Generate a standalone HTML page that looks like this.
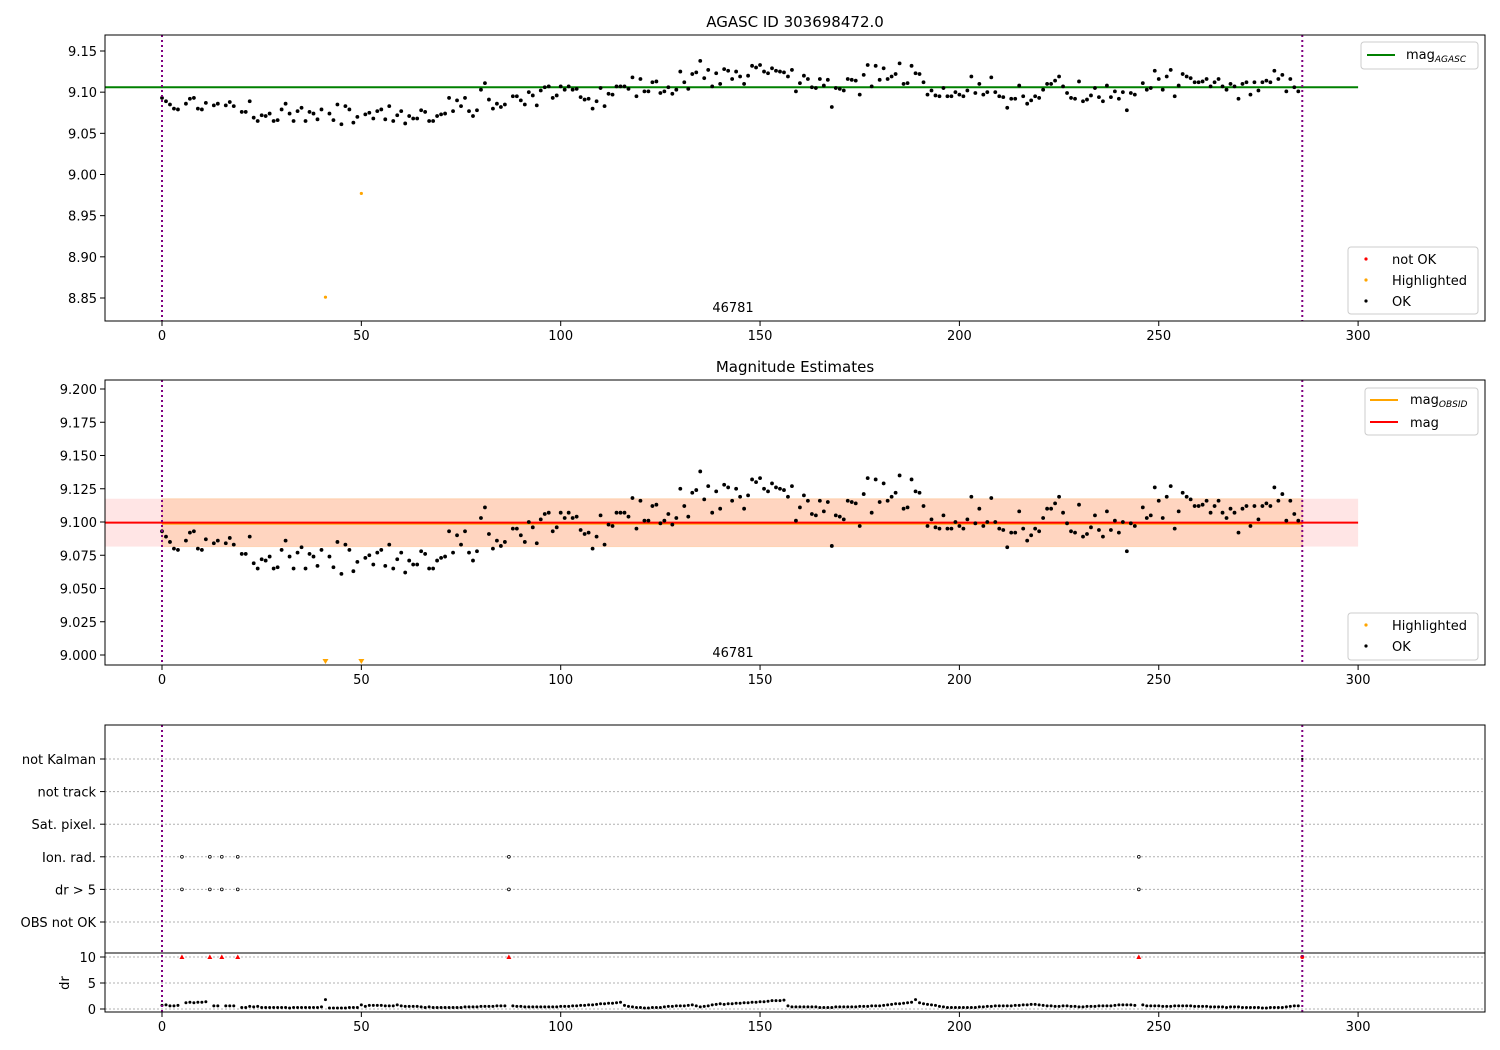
<!DOCTYPE html>
<html><head><meta charset="utf-8"><style>
body{margin:0;background:#fff}
svg{display:block;font-family:"DejaVu Sans","Liberation Sans",sans-serif}
</style></head><body>
<svg id="fig" width="1500" height="1050" viewBox="0 0 1500 1050" xmlns="http://www.w3.org/2000/svg">
<rect width="1500" height="1050" fill="#fff"/>
<text x="795" y="27" font-size="15" text-anchor="middle">AGASC ID 303698472.0</text>
<text x="795" y="372" font-size="15" text-anchor="middle">Magnitude Estimates</text>
<g id="top"></g>
<g id="mid"></g>
<g id="bot"></g>
</svg>
<script>
const mags = [9.093,9.089,9.085,9.080,9.079,null,9.086,9.092,9.093,9.080,
9.079,9.087,null,9.084,9.086,null,9.084,9.088,9.083,null,
9.076,9.076,9.089,9.069,9.065,9.072,9.071,9.074,9.065,9.066,
9.079,9.086,9.074,9.065,9.077,9.081,9.065,9.076,9.074,9.067,
9.079,8.851,9.074,9.066,9.085,9.061,9.083,9.079,9.063,9.070,
8.977,9.073,9.075,9.068,9.077,9.079,9.067,9.083,9.065,9.072,
9.077,9.062,9.071,9.068,9.068,9.078,9.076,9.065,9.065,9.071,
9.073,9.074,9.093,9.077,9.090,9.083,9.093,9.077,9.071,9.078,
9.103,9.111,9.091,9.080,9.086,9.082,9.085,null,9.095,9.095,
9.090,9.085,9.100,9.096,9.084,9.102,9.106,9.107,9.093,9.096,
9.107,9.103,9.107,9.103,9.104,9.094,9.091,9.092,9.080,9.089,
9.105,9.083,9.098,9.097,9.107,9.107,9.107,9.104,9.118,9.095,
9.116,9.101,9.101,9.112,9.113,9.099,9.101,9.106,9.098,9.103,
9.125,9.112,9.104,9.122,9.124,9.138,9.117,9.127,9.107,9.123,
9.110,9.128,9.126,9.116,9.125,9.119,9.110,9.120,9.132,9.130,
9.133,9.125,9.123,9.129,9.126,9.125,9.124,9.119,9.127,9.101,
9.111,9.120,9.116,9.106,9.105,9.116,9.108,9.115,9.082,9.105,
9.104,9.102,9.116,9.115,9.114,9.097,9.121,9.133,9.107,9.132,
9.115,9.129,9.116,9.119,9.122,9.135,9.110,9.111,9.132,9.123,
9.122,9.112,9.097,9.102,9.096,9.095,9.105,9.095,9.095,9.100,
9.097,9.095,9.102,9.119,9.099,9.110,9.097,9.100,9.118,9.100,
9.095,9.094,9.081,9.092,9.092,9.108,9.095,9.086,9.090,9.095,
9.093,9.103,9.110,9.110,9.114,9.119,9.107,9.099,9.093,9.092,
9.113,9.089,9.091,9.096,9.105,9.094,9.089,9.108,9.094,9.101,
9.092,9.100,9.078,9.099,9.097,null,9.111,9.103,9.105,9.126,
9.116,9.103,9.119,9.127,9.095,9.108,9.122,9.119,9.117,9.112,
9.112,9.113,9.116,9.107,9.112,9.116,9.107,9.103,9.110,9.107,
9.092,9.110,9.112,9.097,9.112,9.102,9.112,9.114,9.112,9.126,
9.116,9.121,9.101,9.116,9.106,9.101];
const drValues = [0.7,0.8,0.6,0.6,0.7,10,1.2,1.3,1.2,1.3,
1.3,1.4,10,0.6,0.6,10,0.6,0.6,0.6,10,
0.3,0.3,0.5,0.4,0.5,0.3,0.3,0.3,0.3,0.3,
0.3,0.3,0.2,0.3,0.3,0.3,0.3,0.3,0.3,0.3,
0.4,1.8,0.2,0.2,0.2,0.2,0.2,0.3,0.3,0.3,
0.8,0.5,0.7,0.7,0.7,0.7,0.6,0.6,0.6,0.8,
0.6,0.5,0.5,0.5,0.5,0.4,0.3,0.4,0.3,0.3,
0.3,0.3,0.3,0.3,0.3,0.3,0.4,0.4,0.4,0.4,
0.5,0.5,0.5,0.5,0.6,0.6,0.6,10,0.6,0.5,
0.5,0.4,0.4,0.4,0.4,0.4,0.4,0.4,0.4,0.4,
0.5,0.5,0.5,0.6,0.6,0.7,0.7,0.8,0.8,0.9,
1.0,1.0,1.1,1.1,1.2,1.3,0.7,0.5,0.4,0.3,
0.3,0.2,0.2,0.3,0.3,0.3,0.4,0.5,0.5,0.6,
0.6,0.6,0.7,0.8,0.6,0.4,0.5,0.6,0.8,0.9,
1.0,0.9,1.0,1.0,1.1,1.1,1.2,1.2,1.3,1.3,
1.4,1.4,1.5,1.6,1.6,1.6,1.7,0.6,0.4,0.4,
0.4,0.4,0.4,0.4,0.4,0.3,0.3,0.3,0.3,0.4,
0.4,0.4,0.4,0.4,0.4,0.5,0.5,0.5,0.6,0.6,
0.6,0.7,0.8,0.9,1.0,1.0,1.1,1.2,1.3,1.8,
1.2,1.0,0.9,0.8,0.7,0.5,0.4,0.3,0.3,0.3,
0.3,0.3,0.3,0.3,0.3,0.4,0.4,0.5,0.5,0.6,
0.6,0.6,0.6,0.6,0.7,0.7,0.8,0.8,0.9,0.9,
0.8,0.7,0.6,0.6,0.5,0.5,0.6,0.6,0.5,0.5,
0.4,0.4,0.5,0.5,0.5,0.6,0.6,0.6,0.6,0.7,
0.8,0.8,0.8,0.8,0.7,10,0.8,0.6,0.6,0.6,
0.6,0.5,0.5,0.5,0.6,0.6,0.6,0.6,0.6,0.5,
0.5,0.5,0.5,0.4,0.4,0.4,0.4,0.3,0.4,0.4,
0.4,0.3,0.3,0.3,0.3,0.3,0.2,0.2,0.3,0.3,
0.3,0.3,0.4,0.5,0.6,0.6];
const notOkIdx = [5,12,15,19,87,245];
const highlightedIdx = [41,50];
const agascMag = 9.106;
const obsMag = 9.0995;
const obsMagErr = 0.018;
const obsStart = 0, obsEnd = 286;
const topTicks = [8.85,8.90,8.95,9.00,9.05,9.10,9.15];
const midTicks = [9.000,9.025,9.050,9.075,9.100,9.125,9.150,9.175,9.200];
const xTicks = [0,50,100,150,200,250,300];
const flagCats = ["OBS not OK","dr > 5","Ion. rad.","Sat. pixel.","not track","not Kalman"];
const drTicks = [0,5,10];

const NS="http://www.w3.org/2000/svg";
function mk(parent,tag,attrs,name){const e=document.createElementNS(NS,tag);for(const k in attrs)e.setAttribute(k,attrs[k]);


parent.appendChild(e);return e;}
const X=i=>162+i*3.987;
const YT=m=>51+(9.15-m)*823.3;
const YM=m=>389+(9.2-m)*1330;
const YF=k=>922-k*32.6;
const YD=d=>1009-d*5.2;
const L=105,R=1485;

function xAxis(g,bottom,name){
  xTicks.forEach(t=>{mk(g,'line',{x1:X(t),x2:X(t),y1:bottom,y2:bottom+5,stroke:'#000'},name+'-tick');
    const tx=mk(g,'text',{x:X(t),y:bottom+19,'font-size':13,'text-anchor':'middle'},name+'-tick-label');tx.textContent=t;});
}
function vlines(g,y1,y2){[obsStart,obsEnd].forEach(v=>mk(g,'line',{x1:X(v),x2:X(v),y1:y1,y2:y2,stroke:'purple','stroke-width':2,'stroke-dasharray':'2,3'},'obs-boundary-line'));}

// TOP
const gt=document.getElementById('top');
mk(gt,'line',{x1:L,x2:X(300),y1:YT(agascMag),y2:YT(agascMag),stroke:'green','stroke-width':2},'agasc-mag-line');
mags.forEach((m,i)=>{if(m===null)return;
  if(highlightedIdx.includes(i)) mk(gt,'circle',{cx:X(i),cy:YT(m),r:1.6,fill:'orange'},'highlighted-point');
  else mk(gt,'circle',{cx:X(i),cy:YT(m),r:1.9,fill:'#000'},'ok-point');});
vlines(gt,35,321);
mk(gt,'rect',{x:L,y:35,width:R-L,height:286,fill:'none',stroke:'#000'},'top-axes-frame');
topTicks.forEach(t=>{mk(gt,'line',{x1:L-5,x2:L,y1:YT(t),y2:YT(t),stroke:'#000'},'y-tick');
  const tx=mk(gt,'text',{x:L-8,y:YT(t)+5,'font-size':13,'text-anchor':'end'},'y-tick-label');tx.textContent=t.toFixed(2);});
xAxis(gt,321,'top-x');
let t1=mk(gt,'text',{x:733,y:312,'font-size':13,'text-anchor':'middle'},'obsid-label');t1.textContent='46781';
// legends
mk(gt,'rect',{x:1361,y:42,width:117,height:27,rx:3,fill:'#fff',stroke:'#ccc'},'legend-agasc');
mk(gt,'line',{x1:1367,x2:1395,y1:55,y2:55,stroke:'green','stroke-width':2},'legend-agasc-swatch');
t1=mk(gt,'text',{x:1406,y:59,'font-size':13},'legend-agasc-label');t1.innerHTML='mag<tspan font-size="9" dy="3" font-style="italic">AGASC</tspan>';
mk(gt,'rect',{x:1348,y:247,width:130,height:67,rx:3,fill:'#fff',stroke:'#ccc'},'legend-status');
[['red','not OK',259],['orange','Highlighted',280],['#000','OK',301]].forEach(([c,l,y])=>{
  mk(gt,'circle',{cx:1366,cy:y,r:1.6,fill:c},'legend-status-marker');
  const t=mk(gt,'text',{x:1392,y:y+5,'font-size':13},'legend-status-label');t.textContent=l;});

// MIDDLE
const gm=document.getElementById('mid');
mk(gm,'rect',{x:L,y:YM(obsMag+obsMagErr),width:X(300)-L,height:YM(obsMag-obsMagErr)-YM(obsMag+obsMagErr),fill:'red','fill-opacity':0.1},'mag-error-band');
mk(gm,'rect',{x:X(obsStart),y:YM(obsMag+obsMagErr),width:X(obsEnd)-X(obsStart),height:YM(obsMag-obsMagErr)-YM(obsMag+obsMagErr),fill:'#ffa040','fill-opacity':0.22,stroke:'#ffa040','stroke-opacity':0.25},'obsid-error-band');
mk(gm,'line',{x1:X(obsStart),x2:X(obsEnd),y1:YM(obsMag)+1,y2:YM(obsMag)+1,stroke:'orange','stroke-width':2},'obsid-mag-line');
mk(gm,'line',{x1:L,x2:X(300),y1:YM(obsMag),y2:YM(obsMag),stroke:'red','stroke-width':2},'mag-line');
mags.forEach((m,i)=>{if(m===null)return;
  if(highlightedIdx.includes(i)){const x=X(i),y=662;mk(gm,'polygon',{points:`${x-3},${y-3} ${x+3},${y-3} ${x},${y+2}`,fill:'orange'},'highlighted-clipped-marker');}
  else mk(gm,'circle',{cx:X(i),cy:YM(m),r:1.9,fill:'#000'},'ok-point');});
vlines(gm,380,665);
mk(gm,'rect',{x:L,y:380,width:R-L,height:285,fill:'none',stroke:'#000'},'middle-axes-frame');
midTicks.forEach(t=>{mk(gm,'line',{x1:L-5,x2:L,y1:YM(t),y2:YM(t),stroke:'#000'},'y-tick');
  const tx=mk(gm,'text',{x:L-8,y:YM(t)+5,'font-size':13,'text-anchor':'end'},'y-tick-label');tx.textContent=t.toFixed(3);});
xAxis(gm,665,'mid-x');
t1=mk(gm,'text',{x:733,y:657,'font-size':13,'text-anchor':'middle'},'obsid-label');t1.textContent='46781';
mk(gm,'rect',{x:1365,y:388,width:113,height:47,rx:3,fill:'#fff',stroke:'#ccc'},'legend-mag');
mk(gm,'line',{x1:1370,x2:1398,y1:400,y2:400,stroke:'orange','stroke-width':2},'legend-obsid-swatch');
t1=mk(gm,'text',{x:1410,y:404,'font-size':13},'legend-obsid-label');t1.innerHTML='mag<tspan font-size="9" dy="3" font-style="italic">OBSID</tspan>';
mk(gm,'line',{x1:1370,x2:1398,y1:422,y2:422,stroke:'red','stroke-width':2},'legend-mag-swatch');
t1=mk(gm,'text',{x:1410,y:427,'font-size':13},'legend-mag-label');t1.textContent='mag';
mk(gm,'rect',{x:1348,y:613,width:130,height:47,rx:3,fill:'#fff',stroke:'#ccc'},'legend-status');
[['orange','Highlighted',625],['#000','OK',646]].forEach(([c,l,y])=>{
  mk(gm,'circle',{cx:1366,cy:y,r:1.6,fill:c},'legend-status-marker');
  const t=mk(gm,'text',{x:1392,y:y+5,'font-size':13},'legend-status-label');t.textContent=l;});

// BOTTOM
const gb=document.getElementById('bot');
flagCats.forEach((c,k)=>{mk(gb,'line',{x1:L,x2:R,y1:YF(k),y2:YF(k),stroke:'#b0b0b0','stroke-dasharray':'2,2'},'flag-grid-line');
  mk(gb,'line',{x1:L-5,x2:L,y1:YF(k),y2:YF(k),stroke:'#000'},'flag-tick');
  const t=mk(gb,'text',{x:L-9,y:YF(k)+5,'font-size':13,'text-anchor':'end'},'flag-label');t.textContent=c;});
drTicks.forEach(d=>{mk(gb,'line',{x1:L,x2:R,y1:YD(d),y2:YD(d),stroke:'#b0b0b0','stroke-dasharray':'2,2'},'dr-grid-line');
  mk(gb,'line',{x1:L-5,x2:L,y1:YD(d),y2:YD(d),stroke:'#000'},'dr-tick');
  const t=mk(gb,'text',{x:L-9,y:YD(d)+5,'font-size':13,'text-anchor':'end'},'dr-tick-label');t.textContent=d;});
notOkIdx.forEach(i=>{[1,2].forEach(k=>mk(gb,'circle',{cx:X(i),cy:YF(k),r:1.4,fill:'#fff',stroke:'#000','stroke-width':0.8},'flag-marker'));
  const x=X(i),y=YD(Math.min(drValues[i],10));mk(gb,'polygon',{points:`${x-2.5},${y+2} ${x+2.5},${y+2} ${x},${y-2.5}`,fill:'red'},'dr-outlier-marker');});
drValues.forEach((d,i)=>{if(notOkIdx.includes(i))return;mk(gb,'circle',{cx:X(i),cy:YD(d),r:1.5,fill:'#000'},'dr-point');});
mk(gb,'circle',{cx:X(286),cy:YF(5),r:1.2,fill:'#000'},'flag-marker');
mk(gb,'circle',{cx:X(286),cy:YD(10),r:2,fill:'red'},'dr-outlier-marker');
vlines(gb,725,1012);
mk(gb,'rect',{x:L,y:725,width:R-L,height:287,fill:'none',stroke:'#000'},'bottom-axes-frame');
mk(gb,'line',{x1:L,x2:R,y1:953,y2:953,stroke:'#000'},'dr-axes-top');
xAxis(gb,1012,'bot-x');
t1=mk(gb,'text',{x:69,y:983,'font-size':13,'text-anchor':'middle',transform:'rotate(-90 69 983)'},'dr-axis-title');t1.textContent='dr';
</script>
</body></html>
